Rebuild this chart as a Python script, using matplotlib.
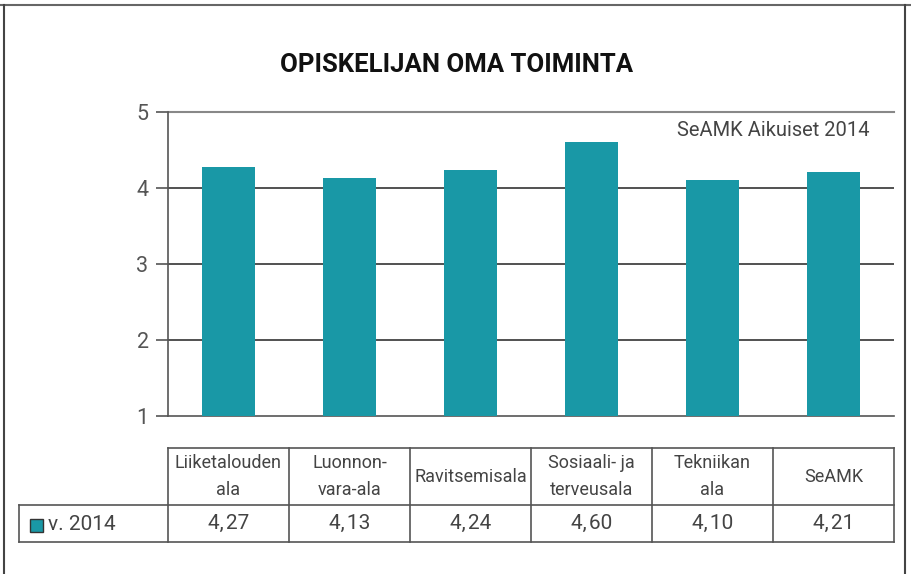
import matplotlib
matplotlib.use('Agg')
import matplotlib.pyplot as plt
from matplotlib.patches import Rectangle
from matplotlib.lines import Line2D

# ---- data ----
categories = ['Liiketalouden\nala', 'Luonnon-\nvara-ala', 'Ravitsemisala',
              'Sosiaali- ja\nterveusala', 'Tekniikan\nala', 'SeAMK']
values = [4.27, 4.13, 4.24, 4.60, 4.10, 4.21]
series_name = 'v. 2014'
yticks = [1, 2, 3, 4, 5]
title = 'OPISKELIJAN OMA TOIMINTA'
note = 'SeAMK Aikuiset 2014'

# ---- style ----
plt.rcParams['font.family'] = ['Roboto', 'DejaVu Sans']
TEAL = '#1998a6'
TXT = '#444444'
LINE = '#555555'
LW_TEXT = 'normal'

W, H = 912, 574
fig = plt.figure(figsize=(W / 100, H / 100), dpi=100)


def fx(px):
    return px / W


def fy(py):
    return 1 - py / H


# outer frame
fig.add_artist(Line2D([0, 1], [fy(5), fy(5)], color='#666666', lw=1.5))
fig.add_artist(Line2D([fx(4), fx(4)], [fy(5), 0], color='#444444', lw=1.5))
fig.add_artist(Line2D([fx(905), fx(905)], [fy(5), 0], color='#444444', lw=1.5))

# main axes
AX_L, AX_R, AX_T, AX_B = 168, 894, 112, 416
ax = fig.add_axes([fx(AX_L), fy(AX_B), fx(AX_R) - fx(AX_L), fy(AX_T) - fy(AX_B)])
x = list(range(len(values)))
ax.bar(x, values, width=0.44, color=TEAL, zorder=3)
ax.set_xlim(-0.5, len(values) - 0.5)
ax.set_ylim(yticks[0], yticks[-1])
for t in yticks[1:-1]:
    ax.axhline(t, color='#222222', lw=1.1, zorder=2)
ax.axhline(yticks[-1], color='#888888', lw=1.5, zorder=2, clip_on=False)
ax.set_yticks(yticks)
ax.set_yticklabels([str(t) for t in yticks], fontweight=LW_TEXT)
ax.tick_params(axis='y', length=9, width=1.2, color=LINE, labelsize=15.5,
               labelcolor='#555555', pad=5)
ax.set_xticks([])
for s in ['top', 'right']:
    ax.spines[s].set_visible(False)
for s in ['left', 'bottom']:
    ax.spines[s].set_color(LINE)
    ax.spines[s].set_linewidth(1.2)
ax.text((870 - AX_L) / (AX_R - AX_L), (AX_B - 131) / (AX_B - AX_T), note,
        transform=ax.transAxes, ha='right', va='center', fontsize=14.5,
        fontweight=LW_TEXT, color=TXT)

# title
fig.text(fx(457), fy(65), title, ha='center', va='center', fontsize=18.5,
         fontweight='bold', color='#111111')

# table axes
TB_T, TB_M, TB_B = 448, 505, 542
tax = fig.add_axes([fx(AX_L), fy(TB_B), fx(AX_R) - fx(AX_L), fy(TB_T) - fy(TB_B)])
tax.set_xlim(-0.5, len(values) - 0.5)
tax.set_ylim(TB_B - TB_B, TB_B - TB_T)
tax.axis('off')
ymid = TB_B - TB_M
ytop = TB_B - TB_T
slot = (AX_R - AX_L) / len(values)
xlab = -0.5 + (19 - AX_L) / slot
n = len(values)
kw = dict(color=LINE, lw=1.2, clip_on=False)
tax.plot([-0.5, n - 0.5], [ytop, ytop], **kw)
tax.plot([xlab, n - 0.5], [ymid, ymid], **kw)
tax.plot([xlab, n - 0.5], [0, 0], **kw)
for i in range(n + 1):
    tax.plot([i - 0.5, i - 0.5], [0, ytop], **kw)
tax.plot([xlab, xlab], [0, ymid], **kw)
for i, (c, v) in enumerate(zip(categories, values)):
    tax.text(i, (ytop + ymid) / 2, c, ha='center', va='center', fontsize=13,
             fontweight=LW_TEXT, color=TXT, linespacing=1.6, clip_on=False)
    tax.text(i, ymid / 2, f'{v:.2f}'.replace('.', ',\u200a'), ha='center', va='center',
             fontsize=15, fontweight=LW_TEXT, color=TXT)

# legend key in row label
fig.add_artist(Rectangle((fx(30), fy(532)), fx(43) - fx(30), fy(519) - fy(532),
                         facecolor=TEAL, edgecolor='#333333', lw=1.0))
fig.text(fx(48), fy(525), series_name, ha='left', va='center', fontsize=15,
         fontweight=LW_TEXT, color=TXT)

fig.savefig('out.png', dpi=100)
